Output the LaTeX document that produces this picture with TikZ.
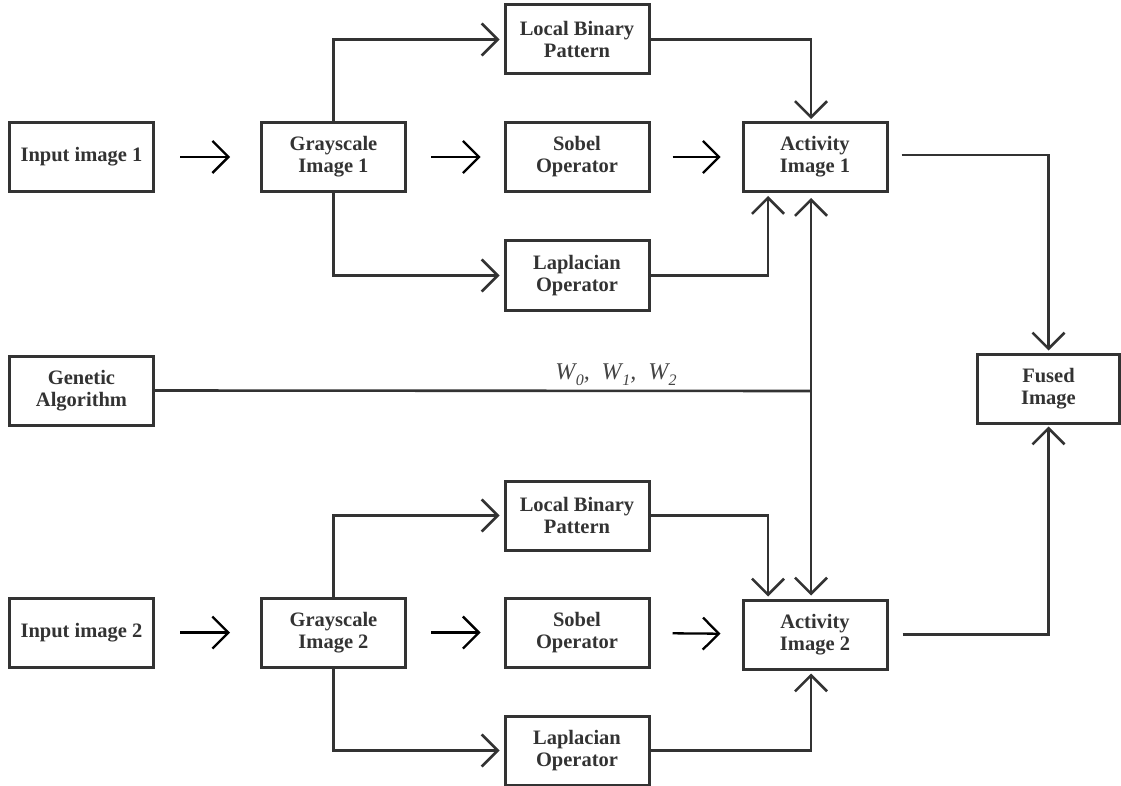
\documentclass[tikz,border=0pt]{standalone}
\usepackage{fontspec}
\setmainfont{Liberation Serif}
\usetikzlibrary{arrows.meta}
\definecolor{ink}{HTML}{333333}
\definecolor{labelgray}{HTML}{444444}
% weight symbol with a lowered subscript
\newcommand\wsym[1]{W\kern0.5pt\raisebox{-6pt}{\fontsize{16}{16}\selectfont #1}}
\begin{document}
\begin{tikzpicture}[x=1pt,y=-1pt,
  box/.style={draw=ink, line width=3pt, minimum width=144pt, minimum height=69pt,
    inner sep=0pt, align=center, text=ink,
    font=\fontsize{20.5}{22}\selectfont\bfseries},
  wire/.style={draw=ink, line width=2.6pt},
  tip/.style={-{Straight Barb[length=16pt,width=32pt]}},
  conn/.style={wire, tip},
  gaparrow/.style={draw=black, line width=2.3pt, tip},
]
\useasboundingbox (0,0) rectangle (1121,786);

% upper branch
\node[box] (in1)  at (81.5,157)   {Input image 1};
\node[box] (gr1)  at (333.5,157)  {Grayscale\\Image 1};
\node[box] (lbp1) at (577,39.5)   {Local Binary\\Pattern};
\node[box] (sob1) at (577,157)    {Sobel\\Operator};
\node[box] (lap1) at (577,275.5)  {Laplacian\\Operator};
\node[box] (act1) at (815,157)    {Activity\\Image 1};

% weights and fusion
\node[box] (ga)    at (81.5,390.5) {Genetic\\Algorithm};
\node[box, minimum width=142pt] (fused) at (1048.5,388.5) {Fused\\Image};

% lower branch
\node[box] (in2)  at (81.5,632.5)  {Input image 2};
\node[box] (gr2)  at (333.5,632.5) {Grayscale\\Image 2};
\node[box] (lbp2) at (577,515.5)   {Local Binary\\Pattern};
\node[box] (sob2) at (577,632.5)   {Sobel\\Operator};
\node[box] (lap2) at (577,750.5)   {Laplacian\\Operator};
\node[box] (act2) at (815,634.5)   {Activity\\Image 2};

% junction of the weight line
\coordinate (bus) at (811,391);

% free-standing arrows between boxes
\draw[gaparrow, shorten <=25pt, shorten >=30pt] (in1) -- (gr1);
\draw[gaparrow, shorten <=24pt, shorten >=23pt] (gr1) -- (sob1);
\draw[gaparrow, shorten <=22pt, shorten >=21pt] (sob1) -- (act1);
\draw[gaparrow, shorten <=25pt, shorten >=30pt] (in2) -- (gr2);
\draw[gaparrow, shorten <=24pt, shorten >=23pt] (gr2) -- (sob2);
\draw[gaparrow, shorten <=22pt, shorten >=21pt] (sob2) -- (act2);

% grayscale to the feature operators
\draw[conn, shorten >=4pt] (gr1.north) |- (lbp1.west);
\draw[conn, shorten >=4pt] (gr1.south) |- (lap1.west);
\draw[conn, shorten >=4pt] (gr2.north) |- (lbp2.west);
\draw[conn, shorten >=4pt] (gr2.south) |- (lap2.west);

% feature operators to the activity images
\draw[conn, shorten >=2pt] (lbp1.east) -| ([xshift=-4pt]act1.north);
\draw[conn, shorten >=3pt] (lap1.east) -| ([xshift=-47pt]act1.south);
\draw[conn, shorten >=2pt] (lbp2.east) -| ([xshift=-47pt]act2.north);
\draw[conn, shorten >=3pt] (lap2.east) -| ([xshift=-4pt]act2.south);

% genetic algorithm weights
\draw[wire] (ga.east) -- (bus);
\draw[conn, shorten >=5pt] (bus) -- ([xshift=-4pt]act1.south);
\draw[conn, shorten >=3pt] (bus) -- ([xshift=-4pt]act2.north);
\node[anchor=base, text=labelgray, font=\fontsize{24}{24}\selectfont\itshape]
  (wlabel) at (616,379) {\wsym{0},\hspace{12pt}\wsym{1},\hspace{12pt}\wsym{2}};

% activity images to the fused image
\draw[conn, shorten <=13pt, shorten >=2pt] ([yshift=2pt]act1.east) -| (fused.north);
\draw[conn, shorten <=14pt, shorten >=2pt] (act2.east) -| (fused.south);
\end{tikzpicture}
\end{document}
